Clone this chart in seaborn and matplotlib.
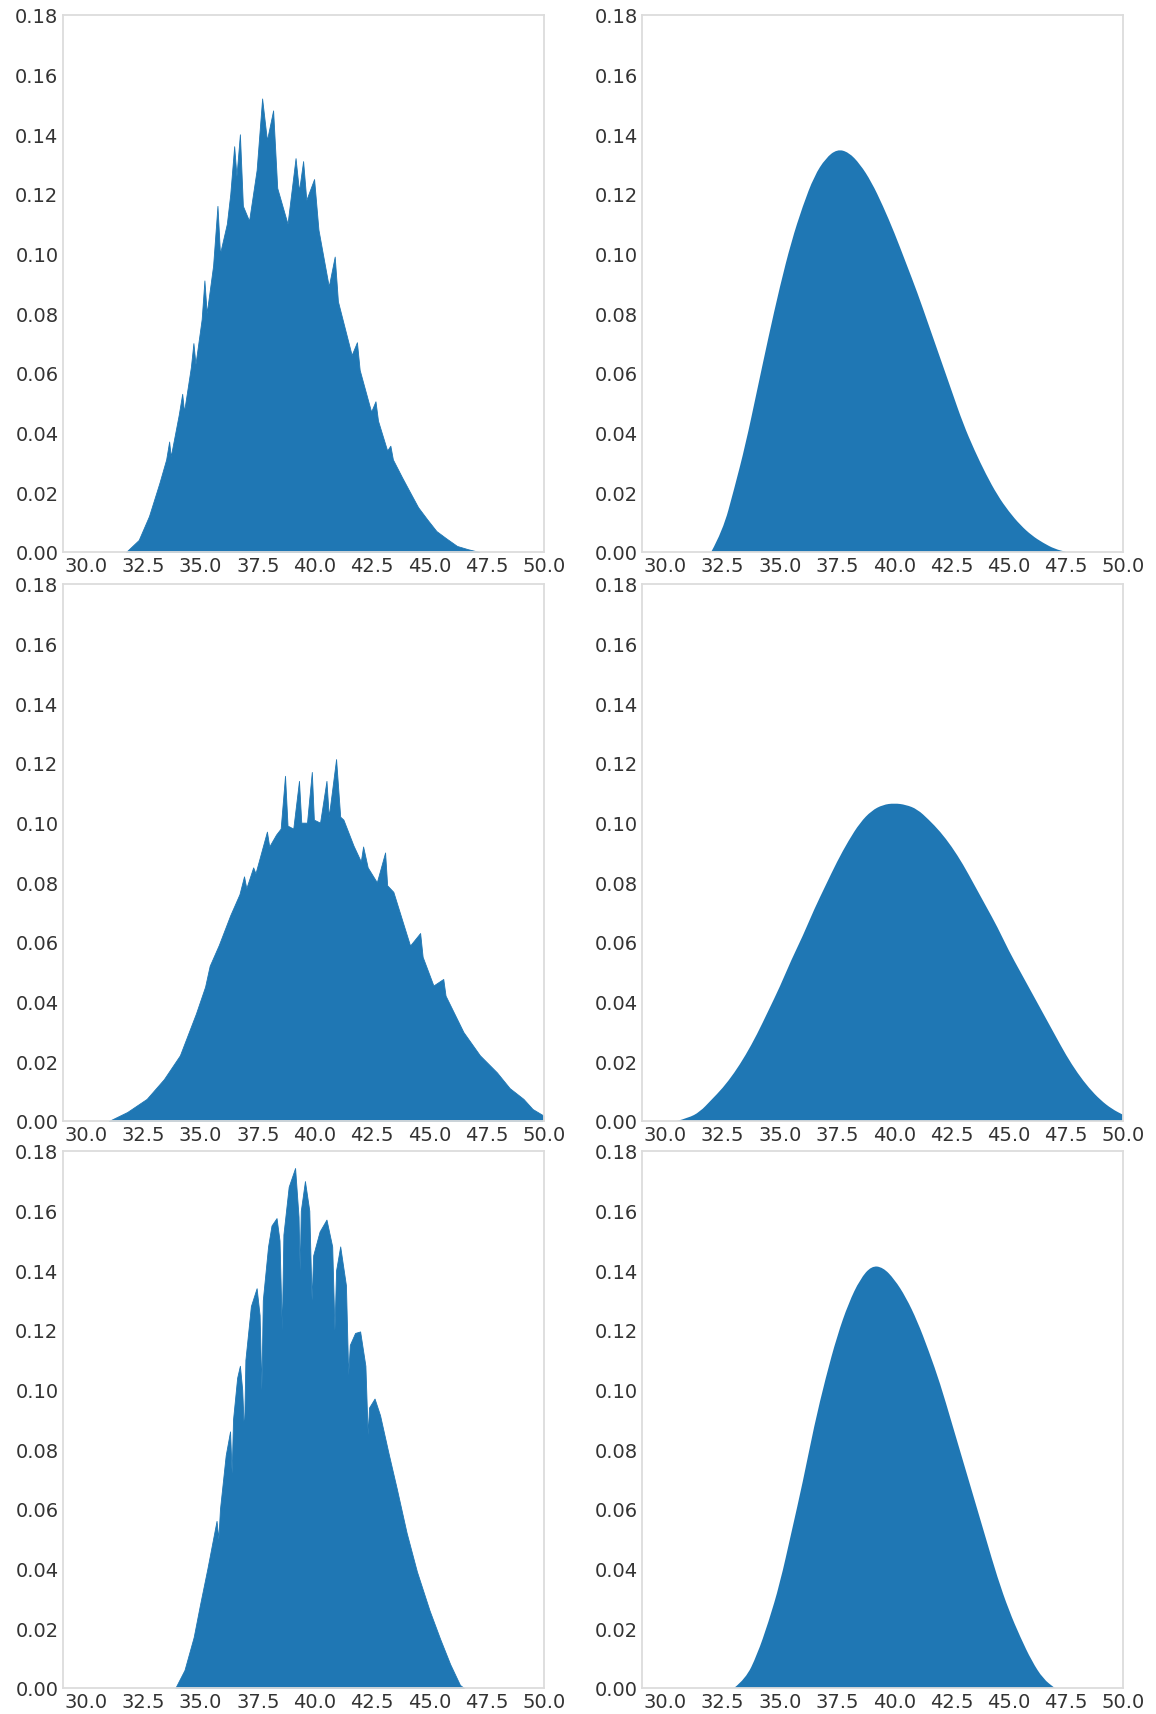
import numpy as np
import matplotlib
matplotlib.use("Agg")
import matplotlib.pyplot as plt
from matplotlib.path import Path
from matplotlib.patches import PathPatch
import seaborn as sns

# ---------------- data ----------------
# Row 1, left (jagged density)
l1_x = [31.75, 32.3, 32.75, 33.2, 33.5, 33.63, 33.7, 34.05, 34.2, 34.28, 34.58, 34.69, 34.78,
        35.05, 35.17, 35.27, 35.55, 35.74, 35.85, 36.15, 36.3, 36.47, 36.57, 36.72, 36.85,
        37.12, 37.45, 37.69, 37.9, 38.17, 38.35, 38.8, 39.15, 39.3, 39.48, 39.62, 39.96,
        40.15, 40.6, 40.86, 41.0, 41.6, 41.83, 41.95, 42.45, 42.64, 42.75, 43.15, 43.29,
        43.4, 43.8, 44.1, 44.5, 44.91, 45.3, 45.72, 46.2, 46.68, 47.17]
l1_y = [0.0, 0.004, 0.012, 0.023, 0.031, 0.037, 0.032, 0.046, 0.053, 0.047, 0.062, 0.070, 0.063,
        0.078, 0.091, 0.080, 0.096, 0.116, 0.100, 0.110, 0.120, 0.136, 0.126, 0.140, 0.116,
        0.111, 0.128, 0.152, 0.138, 0.148, 0.122, 0.110, 0.132, 0.121, 0.131, 0.118, 0.125,
        0.108, 0.089, 0.099, 0.084, 0.066, 0.0703, 0.061, 0.047, 0.0505, 0.044, 0.034, 0.0356,
        0.031, 0.025, 0.0207, 0.015, 0.0108, 0.007, 0.0046, 0.002, 0.0009, 0.0]

# Row 1, right (smooth density)
r1_x = [32.0, 32.5, 33.0, 33.5, 34.0, 34.5, 35.0, 35.5, 36.0, 36.5, 37.0, 37.5, 38.0, 38.5,
        39.0, 39.5, 40.0, 40.5, 41.0, 41.5, 42.0, 42.5, 43.0, 43.5, 44.0, 44.5, 45.0, 45.5,
        46.0, 46.5, 47.0, 47.5]
r1_y = [0.0, 0.007, 0.021, 0.036, 0.054, 0.072, 0.089, 0.104, 0.116, 0.126, 0.132, 0.135,
        0.134, 0.130, 0.124, 0.116, 0.107, 0.097, 0.087, 0.076, 0.065, 0.054, 0.043, 0.034,
        0.026, 0.019, 0.0135, 0.009, 0.0055, 0.003, 0.001, 0.0]

# Row 2, left (jagged density)
l2_x = [31.0, 31.8, 32.65, 33.4, 34.1, 34.8, 35.2, 35.4, 35.8, 36.3, 36.7, 36.9, 37.0, 37.3,
        37.4, 37.9, 38.0, 38.3, 38.5, 38.69, 38.8, 39.05, 39.3, 39.4, 39.65, 39.86, 39.95,
        40.22, 40.5, 40.6, 40.92, 41.1, 41.24, 41.68, 42.0, 42.1, 42.3, 42.7, 43.06, 43.15,
        43.42, 44.15, 44.59, 44.7, 45.17, 45.6, 45.7, 46.48, 47.2, 47.94, 48.5, 49.1, 49.5, 49.98]
l2_y = [0.0, 0.003, 0.0074, 0.014, 0.022, 0.036, 0.045, 0.052, 0.059, 0.069, 0.076, 0.082,
        0.078, 0.085, 0.083, 0.097, 0.092, 0.096, 0.098, 0.1157, 0.099, 0.098, 0.114, 0.100,
        0.100, 0.117, 0.101, 0.100, 0.114, 0.102, 0.1213, 0.102, 0.101, 0.0923, 0.087, 0.092,
        0.085, 0.080, 0.090, 0.079, 0.0768, 0.0588, 0.063, 0.055, 0.0454, 0.0476, 0.042,
        0.0298, 0.022, 0.0163, 0.011, 0.0074, 0.004, 0.0018]

# Row 2, right (smooth density)
r2_x = [30.5, 31.0, 31.5, 32.0, 32.5, 33.0, 33.5, 34.0, 34.5, 35.0, 35.5, 36.0, 36.5, 37.0,
        37.5, 38.0, 38.5, 39.0, 39.5, 40.0, 40.5, 41.0, 41.5, 42.0, 42.5, 43.0, 43.5, 44.0,
        44.5, 45.0, 45.5, 46.0, 46.5, 47.0, 47.5, 48.0, 48.5, 49.0, 49.5, 50.0]
r2_y = [0.0, 0.001, 0.003, 0.007, 0.011, 0.016, 0.022, 0.029, 0.037, 0.045, 0.054, 0.062,
        0.071, 0.079, 0.087, 0.094, 0.100, 0.104, 0.106, 0.1065, 0.106, 0.1045, 0.101, 0.097,
        0.092, 0.086, 0.079, 0.072, 0.065, 0.057, 0.050, 0.043, 0.036, 0.029, 0.022, 0.016,
        0.011, 0.007, 0.004, 0.002]

# Row 3, left (jagged density)
l3_x = [33.9, 34.3, 34.7, 34.98, 35.3, 35.5, 35.7, 35.78, 35.85, 36.1, 36.29, 36.36, 36.42,
        36.6, 36.72, 36.82, 36.9, 36.96, 37.2, 37.45, 37.58, 37.66, 37.72, 37.95, 38.1, 38.32,
        38.45, 38.55, 38.62, 38.85, 39.13, 39.28, 39.33, 39.38, 39.56, 39.75, 39.85, 39.92,
        40.2, 40.5, 40.75, 40.85, 40.92, 41.1, 41.35, 41.45, 41.52, 41.75, 41.97, 42.2, 42.3,
        42.36, 42.6, 42.84, 43.2, 43.57, 44.0, 44.45, 45.0, 45.46, 45.9, 46.33, 46.5]
l3_y = [0.0, 0.006, 0.017, 0.028, 0.040, 0.048, 0.056, 0.050, 0.060, 0.078, 0.086, 0.072,
        0.090, 0.104, 0.108, 0.100, 0.085, 0.110, 0.128, 0.134, 0.125, 0.100, 0.130, 0.148,
        0.155, 0.1575, 0.150, 0.120, 0.152, 0.168, 0.1743, 0.158, 0.140, 0.160, 0.1699, 0.160,
        0.130, 0.145, 0.153, 0.157, 0.148, 0.120, 0.140, 0.148, 0.135, 0.105, 0.115, 0.119,
        0.1195, 0.108, 0.085, 0.094, 0.097, 0.0914, 0.079, 0.0668, 0.052, 0.039, 0.026,
        0.0165, 0.008, 0.001, 0.0]

# Row 3, right (smooth density)
r3_x = [33.0, 33.5, 34.0, 34.5, 35.0, 35.5, 36.0, 36.5, 37.0, 37.5, 38.0, 38.5, 39.0, 39.5,
        40.0, 40.5, 41.0, 41.5, 42.0, 42.5, 43.0, 43.5, 44.0, 44.5, 45.0, 45.5, 46.0, 46.5, 47.0]
r3_y = [0.0, 0.003, 0.011, 0.022, 0.035, 0.052, 0.069, 0.088, 0.104, 0.118, 0.129, 0.137,
        0.1415, 0.141, 0.137, 0.131, 0.123, 0.113, 0.102, 0.089, 0.076, 0.063, 0.050, 0.037,
        0.026, 0.017, 0.009, 0.003, 0.0]

x_ticks = [30.0, 32.5, 35.0, 37.5, 40.0, 42.5, 45.0, 47.5, 50.0]
y_ticks = [0.00, 0.02, 0.04, 0.06, 0.08, 0.10, 0.12, 0.14, 0.16, 0.18]

panels = [[(l1_x, l1_y, "jagged"), (r1_x, r1_y, "smooth")],
          [(l2_x, l2_y, "jagged"), (r2_x, r2_y, "smooth")],
          [(l3_x, l3_y, "jagged"), (r3_x, r3_y, "smooth")]]


def smooth_area(ax, xs, ys, color):
    """Fill the area under the read points, drawn as a smooth quadratic curve."""
    verts = [(xs[0], 0.0), (xs[0], ys[0])]
    codes = [Path.MOVETO, Path.LINETO]
    for i in range(1, len(xs) - 1):
        mid = ((xs[i] + xs[i + 1]) / 2.0, (ys[i] + ys[i + 1]) / 2.0)
        verts += [(xs[i], ys[i]), mid]
        codes += [Path.CURVE3, Path.CURVE3]
    verts += [(xs[-1], ys[-1]), (xs[-1], 0.0), (xs[0], 0.0)]
    codes += [Path.LINETO, Path.LINETO, Path.CLOSEPOLY]
    ax.add_patch(PathPatch(Path(verts, codes), facecolor=color, edgecolor="none",
                           transform=ax.transData))


# ---------------- drawing ----------------
sns.set_style("white", {"axes.edgecolor": "0.85", "xtick.color": "0.2", "ytick.color": "0.2"})
plt.rcParams["font.family"] = ["DejaVu Sans"]

fig = plt.figure(figsize=(11.56, 17.15), dpi=100)
lefts = [0.0542, 0.5554]
bottoms = [0.6776, 0.3458, 0.0152]
w, h = 0.4164, 0.3131
color = sns.color_palette()[0]

for r in range(3):
    for c in range(2):
        ax = fig.add_axes([lefts[c], bottoms[r], w, h])
        xs, ys, kind = panels[r][c]
        if kind == "jagged":
            ax.fill_between(xs, ys, 0, color=color, linewidth=0.6, edgecolor=color)
        else:
            smooth_area(ax, xs, ys, color)
        ax.set_xlim(28.98, 50.0)
        ax.set_ylim(0.0, 0.18)
        ax.set_xticks(x_ticks)
        ax.set_xticklabels([f"{t:.1f}" for t in x_ticks])
        ax.set_yticks(y_ticks)
        ax.set_yticklabels([f"{t:.2f}" for t in y_ticks])
        ax.tick_params(axis="both", length=0, labelsize=14, pad=3)
        for s in ax.spines.values():
            s.set_linewidth(1.3)
            s.set_edgecolor("#dcdcdc")

fig.savefig("out.png", dpi=100)
